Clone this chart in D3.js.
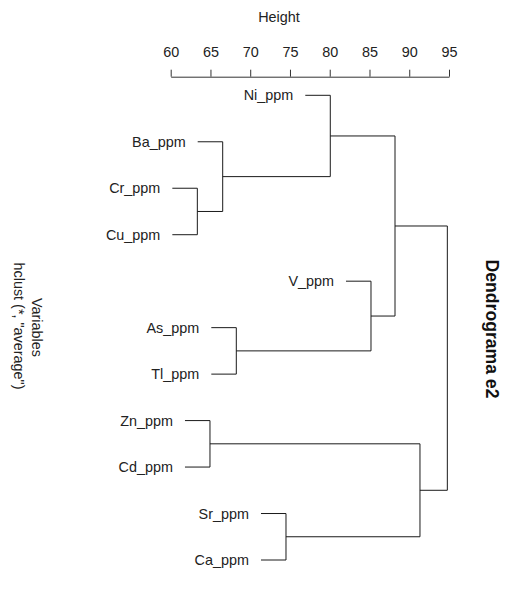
<!DOCTYPE html>
<html>
<head>
<meta charset="utf-8">
<script src="https://cdn.jsdelivr.net/npm/d3@7"></script>
<style>
  html, body { margin: 0; padding: 0; background: #fff; }
  svg { display: block; font-family: "Liberation Sans", Arial, sans-serif; }
</style>
</head>
<body>
<svg id="chart" width="507" height="614"></svg>
<script>
// Leaves in display order
const labels = ["Ni_ppm","Ba_ppm","Cr_ppm","Cu_ppm","V_ppm","As_ppm","Tl_ppm","Zn_ppm","Cd_ppm","Sr_ppm","Ca_ppm"];
// hclust-style merges: negative = leaf (1-based), positive = earlier merge (1-based)
const mergeLeft  = [-3, -8, -2, -6, -10, -1, -5, 6, 2, 8];
const mergeRight = [-4, -9,  1, -7, -11,  3,  4, 7, 5, 9];
const mergeHeight = [63.35, 64.94, 66.54, 68.25, 74.5, 80.07, 85.19, 88.21, 91.35, 94.79];
const tickValues = [60, 65, 70, 75, 80, 85, 90, 95];

const svg = d3.select("#chart");
const FONT = 14.4;

const x = d3.scaleLinear().domain([60, 95]).range([170.7, 449]);
const y = d3.scalePoint().domain(labels).range([95.3, 560]);

const hang = 0.1 * (d3.max(mergeHeight) - d3.min(mergeHeight));

// node info
const nodes = mergeHeight.map(() => ({}));
function childInfo(ref) {
  if (ref < 0) return { leaf: true, label: labels[-ref - 1], y: y(labels[-ref - 1]) };
  return { leaf: false, y: nodes[ref - 1].y, h: mergeHeight[ref - 1] };
}
mergeHeight.forEach((h, i) => {
  const a = childInfo(mergeLeft[i]);
  const b = childInfo(mergeRight[i]);
  nodes[i] = { h, a, b, y: (a.y + b.y) / 2 };
});

const g = svg.append("g");
const segs = [];
const leafEnds = [];
nodes.forEach(n => {
  const nx = x(n.h);
  segs.push([nx, n.a.y, nx, n.b.y]);
  [n.a, n.b].forEach(c => {
    const cx = c.leaf ? x(n.h - hang) : x(c.h);
    segs.push([nx, c.y, cx, c.y]);
    if (c.leaf) leafEnds.push({ label: c.label, x: cx, y: c.y });
  });
});

g.selectAll("line.seg").data(segs).join("line")
  .attr("class", "seg")
  .attr("x1", d => d[0]).attr("y1", d => d[1])
  .attr("x2", d => d[2]).attr("y2", d => d[3])
  .attr("stroke", "#1a1a1a").attr("stroke-width", 1);

g.selectAll("text.leaf").data(leafEnds).join("text")
  .attr("class", "leaf")
  .attr("x", d => d.x - 12)
  .attr("y", d => d.y)
  .attr("dy", "0.36em")
  .attr("text-anchor", "end")
  .attr("font-size", FONT)
  .attr("fill", "#222")
  .text(d => d.label);

// Height axis on top
const axis = d3.axisTop(x).tickValues(tickValues).tickSize(7).tickSizeOuter(0).tickPadding(12.4);
const ax = svg.append("g").attr("transform", "translate(0,76.7)").call(axis);
ax.select(".domain").attr("stroke", "#333");
ax.selectAll(".tick line").attr("stroke", "#333");
ax.selectAll(".tick text").attr("font-size", FONT).attr("fill", "#222")
  .attr("font-family", "\"Liberation Sans\", Arial, sans-serif").attr("dy", "0");

svg.append("text")
  .attr("x", 279).attr("y", 22.4)
  .attr("text-anchor", "middle").attr("font-size", FONT).attr("fill", "#222")
  .text("Height");

// Title (rotated)
svg.append("text")
  .attr("transform", "translate(485.5,329) rotate(90)")
  .attr("text-anchor", "middle").attr("font-size", 17.6).attr("font-weight", "bold").attr("fill", "#111")
  .text("Dendrograma e2");

// x label and subtitle (rotated)
svg.append("text")
  .attr("transform", "translate(31.5,327.5) rotate(90)")
  .attr("text-anchor", "middle").attr("font-size", FONT).attr("fill", "#222")
  .text("Variables");
svg.append("text")
  .attr("transform", "translate(14,326) rotate(90)")
  .attr("text-anchor", "middle").attr("font-size", FONT).attr("fill", "#222")
  .text("hclust (*, \"average\")");
</script>
</body>
</html>
